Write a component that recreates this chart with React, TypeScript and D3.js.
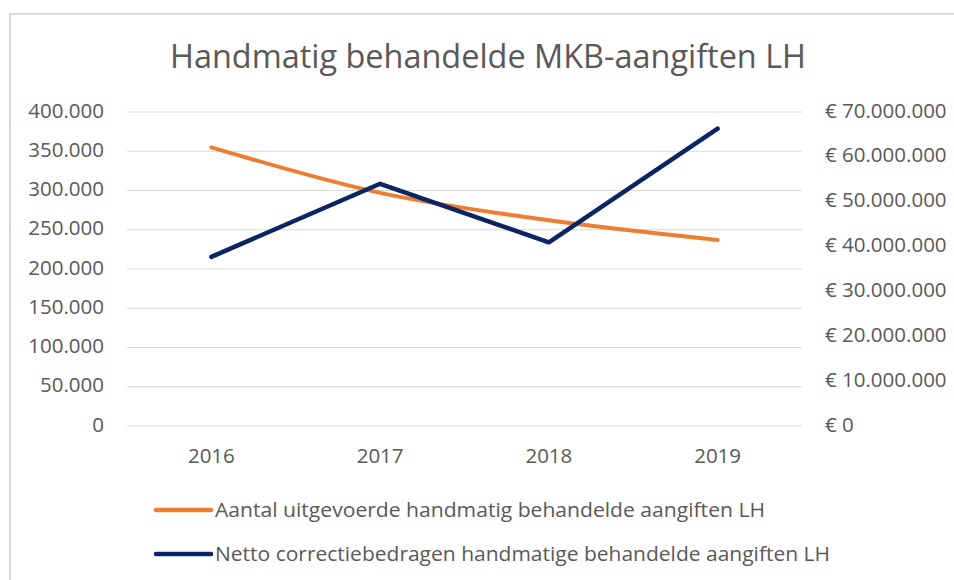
import React from "react";
import * as d3 from "d3";

const years: string[] = ["2016", "2017", "2018", "2019"];
const aantal: number[] = [355000, 297000, 262000, 237000];
const netto: number[] = [37700000, 54000000, 40950000, 66300000];
const leftTicks: number[] = [0, 50000, 100000, 150000, 200000, 250000, 300000, 350000, 400000];
const rightTicks: number[] = [0, 10000000, 20000000, 30000000, 40000000, 50000000, 60000000, 70000000];
const title = "Handmatig behandelde MKB-aangiften LH";
const legendLabels: string[] = [
  "Aantal uitgevoerde handmatig behandelde aangiften LH",
  "Netto correctiebedragen handmatige behandelde aangiften LH",
];

const W = 954;
const H = 580;
const FONT = "'Open Sans', 'DejaVu Sans', sans-serif";
const TEXT = "#595959";
const ORANGE = "#ED7D31";
const NAVY = "#0B2463";

const nl = d3.formatLocale({ decimal: ",", thousands: ".", grouping: [3], currency: ["€ ", ""] });
const fmtL = nl.format(",d");
const fmtR = (v: number) => "€ " + nl.format(",d")(v);

export default function App() {
  const x = d3.scaleBand<string>().domain(years).range([127, 802]);
  const yL = d3.scaleLinear().domain([0, 400000]).range([426, 112]);
  const yR = d3.scaleLinear().domain([0, 70000000]).range([426, 112]);
  const cx = (d: string) => (x(d) as number) + x.bandwidth() / 2;

  const lineA = d3
    .line<number>()
    .x((_, i) => cx(years[i]))
    .y((d) => yL(d))
    .curve(d3.curveCardinal.tension(0));
  const lineN = d3
    .line<number>()
    .x((_, i) => cx(years[i]))
    .y((d) => yR(d));

  const legendColors = [ORANGE, NAVY];
  const legendY = [510, 554];
  const legendW = [550, 615];

  return (
    <>
      <style>{`body{margin:0}`}</style>
      <svg width={W} height={H} style={{ display: "block", background: "#fff" }} fontFamily={FONT}>
        <rect x={10} y={14} width={W} height={H} fill="#fff" stroke="#d9d9d9" strokeWidth={2} />
        <text
          x={488}
          y={68}
          textAnchor="middle"
          fontSize={32}
          fill={TEXT}
          textLength={636}
          lengthAdjust="spacingAndGlyphs"
        >
          {title}
        </text>
        {leftTicks.map((t) => (
          <g key={"l" + t}>
            <line x1={127} x2={802} y1={yL(t)} y2={yL(t)} stroke="#d9d9d9" strokeWidth={1.2} />
            <text x={104} y={yL(t) + 5.5} textAnchor="end" fontSize={20.5} fill={TEXT}>
              {fmtL(t)}
            </text>
          </g>
        ))}
        {rightTicks.map((t) => (
          <text key={"r" + t} x={825} y={yR(t) + 5.5} textAnchor="start" fontSize={20.5} fill={TEXT}>
            {fmtR(t)}
          </text>
        ))}
        {years.map((yr) => (
          <text key={yr} x={cx(yr)} y={463} textAnchor="middle" fontSize={20.5} fill={TEXT}>
            {yr}
          </text>
        ))}
        <path d={lineA(aantal) as string} fill="none" stroke={ORANGE} strokeWidth={4} strokeLinecap="round" strokeLinejoin="round" />
        <path d={lineN(netto) as string} fill="none" stroke={NAVY} strokeWidth={4.5} strokeLinecap="round" strokeLinejoin="round" />
        {legendLabels.map((lab, i) => (
          <g key={lab}>
            <line x1={156} x2={211} y1={legendY[i]} y2={legendY[i]} stroke={legendColors[i]} strokeWidth={4.5} strokeLinecap="round" />
            <text
              x={215}
              y={legendY[i] + 7}
              fontSize={20.5}
              fill={TEXT}
              textLength={legendW[i]}
              lengthAdjust="spacingAndGlyphs"
            >
              {lab}
            </text>
          </g>
        ))}
      </svg>
    </>
  );
}
